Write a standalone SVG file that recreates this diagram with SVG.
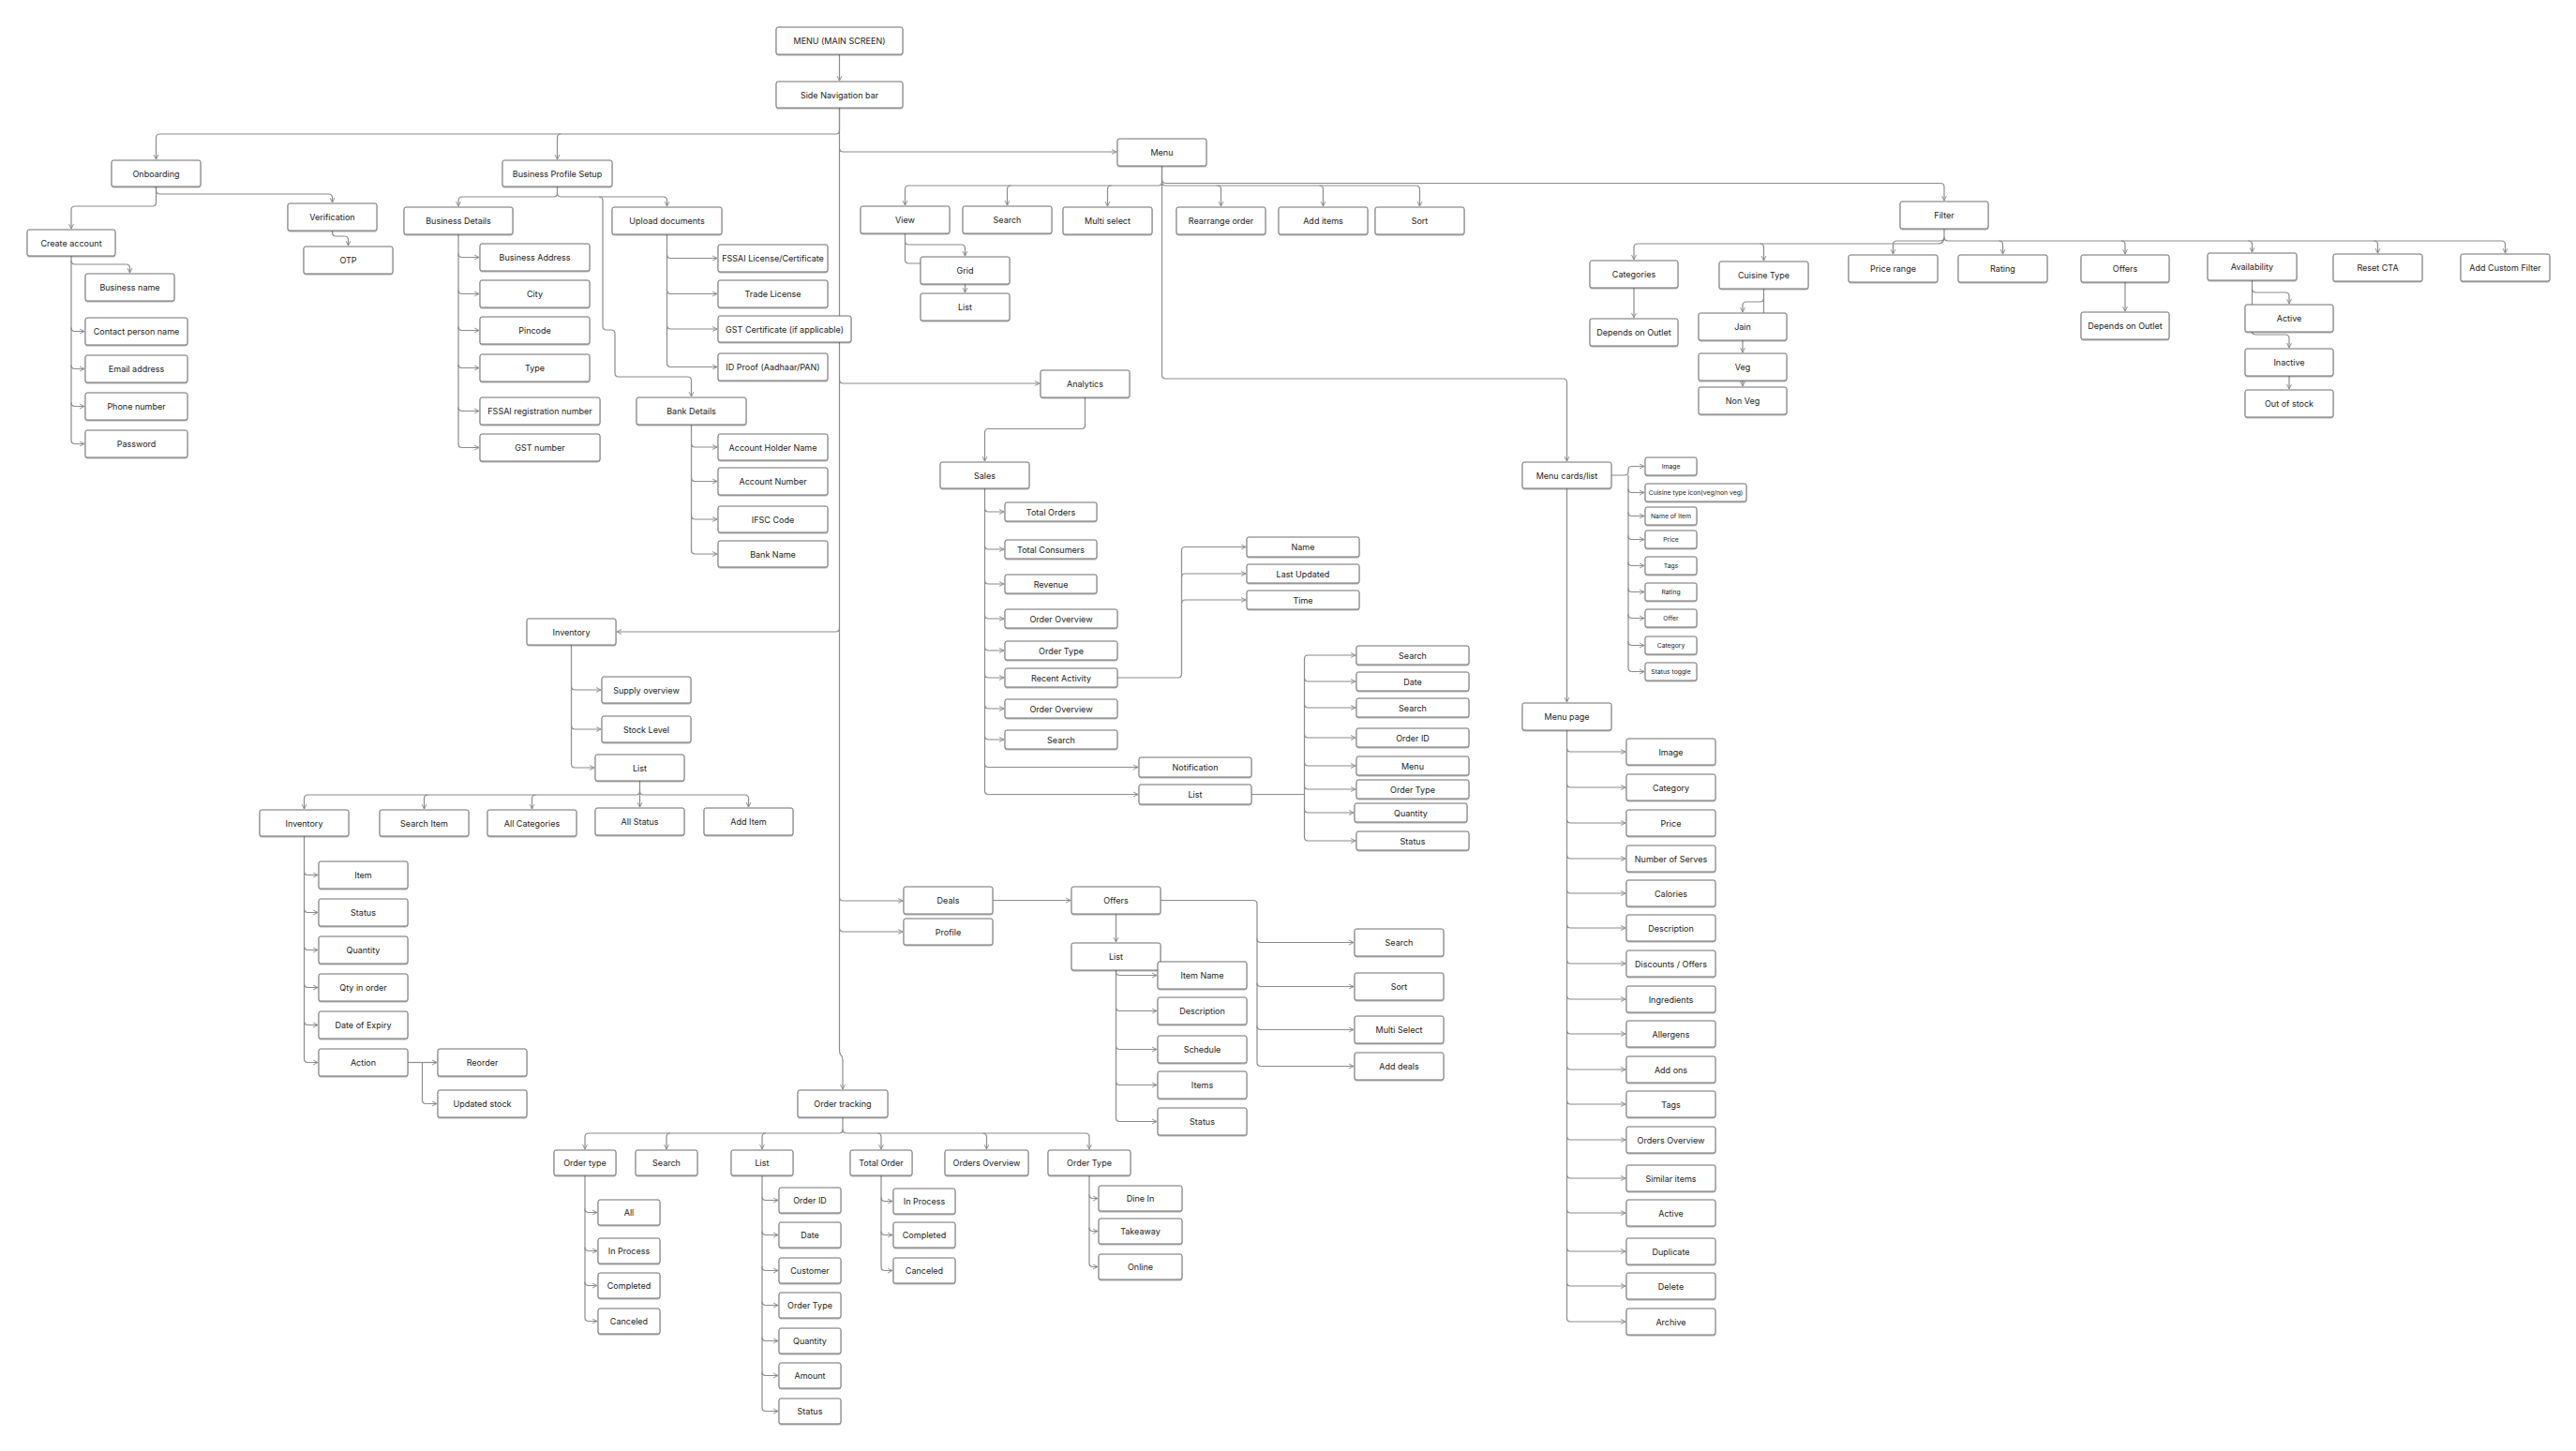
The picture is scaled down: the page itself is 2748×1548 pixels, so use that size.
<svg xmlns="http://www.w3.org/2000/svg" width="2748" height="1548" viewBox="0 0 2748 1548">
<style>
.n rect{fill:#fff;stroke:#6f6f6f;stroke-width:1;rx:2px;filter:url(#sh)}
.n text{font-family:Inter,"Liberation Sans",sans-serif;font-size:9px;fill:#222;text-anchor:middle;dominant-baseline:central}
.s text{font-size:6.8px}
#connectors path{fill:none;stroke:#8c8c8c;stroke-width:1.2}
#connectors .a{marker-end:url(#ar)}
</style>
<defs>
<filter id="sh" x="-5%" y="-10%" width="110%" height="130%"><feDropShadow dx="0" dy="1" stdDeviation="0.4" flood-color="#000" flood-opacity="0.3"/></filter>
<marker id="ar" viewBox="0 0 10 10" refX="9" refY="5" markerWidth="7" markerHeight="7" markerUnits="userSpaceOnUse" orient="auto"><path d="M2,1.5 L9,5 L2,8.5" fill="none" stroke="#8c8c8c" stroke-width="1.4"/></marker>
</defs>
<rect width="2748" height="1548" fill="#fff"/>
<g id="connectors">
<path class="a" d="M895.5,58 V86"/>
<path class="a" d="M895.5,115 V139 Q895.5,143 891.5,143 H170.5 Q166.5,143 166.5,147 V170"/>
<path class="a" d="M598.5,143 Q594.5,143 594.5,147 V170"/>
<path class="a" d="M895.5,115 V1120 Q895.5,1124 897,1125.5 Q899,1127 899,1131 V1162"/>
<path class="a" d="M895.5,158 Q895.5,162 899.5,162 H1191"/>
<path class="a" d="M895.5,405 Q895.5,409 899.5,409 H1109"/>
<path class="a" d="M895.5,670 Q895.5,674 891.5,674 H658"/>
<path class="a" d="M895.5,957 Q895.5,961 899.5,961 H963"/>
<path class="a" d="M895.5,990 Q895.5,994 899.5,994 H963"/>
<path class="a" d="M166.5,199 V203 Q166.5,207 170.5,207 H350.5 Q354.5,207 354.5,211 V216"/>
<path class="a" d="M166.5,199 V216 Q166.5,220 162.5,220 H80 Q76,220 76,224 V244"/>
<path class="a" d="M354.5,246 V248 Q354.5,252 358.5,252 H367.5 Q371.5,252 371.5,256 V262"/>
<path class="a" d="M76,273 V469.5 Q76,473.5 80,473.5 H90"/>
<path class="a" d="M76,278 Q76,282 80,282 H134.5 Q138.5,282 138.5,286 V291"/>
<path class="a" d="M76,349.5 Q76,353.5 80,353.5 H90"/>
<path class="a" d="M76,389.5 Q76,393.5 80,393.5 H90"/>
<path class="a" d="M76,429.5 Q76,433.5 80,433.5 H90"/>
<path class="a" d="M594.5,199 V206 Q594.5,210 590.5,210 H493 Q489,210 489,214 V220"/>
<path class="a" d="M594.5,206 Q594.5,210 598.5,210 H707.5 Q711.5,210 711.5,214 V220"/>
<path class="a" d="M639,210 Q643,210 643,214 V348 Q643,352 647,352 H652 Q656,352 656,356 V398 Q656,402 660,402 H733.5 Q737.5,402 737.5,406 V423"/>
<path class="a" d="M489,250 V473.5 Q489,477.5 493,477.5 H511"/>
<path class="a" d="M489,270.5 Q489,274.5 493,274.5 H511"/>
<path class="a" d="M489,309.5 Q489,313.5 493,313.5 H511"/>
<path class="a" d="M489,348.5 Q489,352.5 493,352.5 H511"/>
<path class="a" d="M489,388.5 Q489,392.5 493,392.5 H511"/>
<path class="a" d="M489,434.5 Q489,438.5 493,438.5 H511"/>
<path class="a" d="M711.5,250 V387.5 Q711.5,391.5 715.5,391.5 H765"/>
<path class="a" d="M711.5,271.5 Q711.5,275.5 715.5,275.5 H765"/>
<path class="a" d="M711.5,309.5 Q711.5,313.5 715.5,313.5 H765"/>
<path class="a" d="M711.5,347 Q711.5,351 715.5,351 H765"/>
<path class="a" d="M737.5,453 V587 Q737.5,591 741.5,591 H765"/>
<path class="a" d="M737.5,473 Q737.5,477 741.5,477 H765"/>
<path class="a" d="M737.5,509.5 Q737.5,513.5 741.5,513.5 H765"/>
<path class="a" d="M737.5,550 Q737.5,554 741.5,554 H765"/>
<path class="a" d="M1239.5,177 V194 Q1239.5,198 1235.5,198 H969.5 Q965.5,198 965.5,202 V219"/>
<path class="a" d="M1078.5,198 Q1074.5,198 1074.5,202 V219"/>
<path class="a" d="M1185.5,198 Q1181.5,198 1181.5,202 V220"/>
<path class="a" d="M1239.5,194 Q1239.5,198 1243.5,198 H1510.5 Q1514.5,198 1514.5,202 V220"/>
<path class="a" d="M1298.5,198 Q1302.5,198 1302.5,202 V220"/>
<path class="a" d="M1407.5,198 Q1411.5,198 1411.5,202 V220"/>
<path class="a" d="M1239.5,191 Q1239.5,195.5 1244,195.5 H2070 Q2074,195.5 2074,199.5 V214"/>
<path class="a" d="M1239.5,177 V400 Q1239.5,404 1243.5,404 H1667.5 Q1671.5,404 1671.5,408 V492"/>
<path class="a" d="M965.5,249 V257 Q965.5,261 969.5,261 H1025.5 Q1029.5,261 1029.5,265 V273"/>
<path d="M965.5,257 V277 Q965.5,281 969.5,281 H982"/>
<path class="a" d="M1029.5,303 V312"/>
<path class="a" d="M2074,244 V253 Q2074,257 2078,257 H2668.5 Q2672.5,257 2672.5,261 V270"/>
<path class="a" d="M2132.5,257 Q2136.5,257 2136.5,261 V271"/>
<path class="a" d="M2263,257 Q2267,257 2267,261 V271"/>
<path class="a" d="M2398.5,257 Q2402.5,257 2402.5,261 V269"/>
<path class="a" d="M2532.5,257 Q2536.5,257 2536.5,261 V270"/>
<path class="a" d="M2074,253 Q2074,257 2070,257 H2023.5 Q2019.5,257 2019.5,261 V271"/>
<path class="a" d="M2074,253 Q2074,260 2067,260 H1747 Q1743,260 1743,264 V277"/>
<path class="a" d="M1877.5,260 Q1881.5,260 1881.5,264 V278"/>
<path class="a" d="M1743,307 V339"/>
<path class="a" d="M1881.5,308 V318 Q1881.5,322 1877.5,322 H1863 Q1859,322 1859,326 V333"/>
<path d="M1881.5,318 V334"/>
<path class="a" d="M1859,363 V376"/>
<path class="a" d="M1859,406 V412"/>
<path class="a" d="M2267,301 V332"/>
<path class="a" d="M2402.5,299 V308 Q2402.5,312 2406.5,312 H2438 Q2442,312 2442,316 V324"/>
<path d="M2402.5,308 V325"/>
<path class="a" d="M2402.5,354 Q2402.5,357 2406.5,357 H2438 Q2442,357 2442,361 V371"/>
<path class="a" d="M2442,401 V415"/>
<path class="a" d="M1719,507 H1733 Q1737,507 1737,503 V501.5 Q1737,497.5 1741,497.5 H1754"/>
<path class="a" d="M1737,507 V712.5 Q1737,716.5 1741,716.5 H1754"/>
<path class="a" d="M1737,521.5 Q1737,525.5 1741,525.5 H1754"/>
<path class="a" d="M1737,546.5 Q1737,550.5 1741,550.5 H1754"/>
<path class="a" d="M1737,571.5 Q1737,575.5 1741,575.5 H1754"/>
<path class="a" d="M1737,599.5 Q1737,603.5 1741,603.5 H1754"/>
<path class="a" d="M1737,627.5 Q1737,631.5 1741,631.5 H1754"/>
<path class="a" d="M1737,655.5 Q1737,659.5 1741,659.5 H1754"/>
<path class="a" d="M1737,684.5 Q1737,688.5 1741,688.5 H1754"/>
<path class="a" d="M1671.5,521 V749"/>
<path class="a" d="M1671.5,779 V1406 Q1671.5,1410 1675.5,1410 H1734"/>
<path class="a" d="M1671.5,798 Q1671.5,802 1675.5,802 H1734"/>
<path class="a" d="M1671.5,836 Q1671.5,840 1675.5,840 H1734"/>
<path class="a" d="M1671.5,874 Q1671.5,878 1675.5,878 H1734"/>
<path class="a" d="M1671.5,912 Q1671.5,916 1675.5,916 H1734"/>
<path class="a" d="M1671.5,949 Q1671.5,953 1675.5,953 H1734"/>
<path class="a" d="M1671.5,986 Q1671.5,990 1675.5,990 H1734"/>
<path class="a" d="M1671.5,1024 Q1671.5,1028 1675.5,1028 H1734"/>
<path class="a" d="M1671.5,1062 Q1671.5,1066 1675.5,1066 H1734"/>
<path class="a" d="M1671.5,1099 Q1671.5,1103 1675.5,1103 H1734"/>
<path class="a" d="M1671.5,1137 Q1671.5,1141 1675.5,1141 H1734"/>
<path class="a" d="M1671.5,1174 Q1671.5,1178 1675.5,1178 H1734"/>
<path class="a" d="M1671.5,1212 Q1671.5,1216 1675.5,1216 H1734"/>
<path class="a" d="M1671.5,1253 Q1671.5,1257 1675.5,1257 H1734"/>
<path class="a" d="M1671.5,1290 Q1671.5,1294 1675.5,1294 H1734"/>
<path class="a" d="M1671.5,1331 Q1671.5,1335 1675.5,1335 H1734"/>
<path class="a" d="M1671.5,1368 Q1671.5,1372 1675.5,1372 H1734"/>
<path class="a" d="M1157.5,424 V453.5 Q1157.5,457.5 1153.5,457.5 H1054.5 Q1050.5,457.5 1050.5,461.5 V492"/>
<path class="a" d="M1050.5,521 V843.5 Q1050.5,847.5 1054.5,847.5 H1214"/>
<path class="a" d="M1050.5,542 Q1050.5,546 1054.5,546 H1071"/>
<path class="a" d="M1050.5,582 Q1050.5,586 1054.5,586 H1071"/>
<path class="a" d="M1050.5,619 Q1050.5,623 1054.5,623 H1071"/>
<path class="a" d="M1050.5,656 Q1050.5,660 1054.5,660 H1071"/>
<path class="a" d="M1050.5,690 Q1050.5,694 1054.5,694 H1071"/>
<path class="a" d="M1050.5,719 Q1050.5,723 1054.5,723 H1071"/>
<path class="a" d="M1050.5,752 Q1050.5,756 1054.5,756 H1071"/>
<path class="a" d="M1050.5,785 Q1050.5,789 1054.5,789 H1071"/>
<path class="a" d="M1050.5,814.5 Q1050.5,818.5 1054.5,818.5 H1214"/>
<path class="a" d="M1192,723 H1256.5 Q1260.5,723 1260.5,719 V587.5 Q1260.5,583.5 1264.5,583.5 H1329"/>
<path class="a" d="M1260.5,616 Q1260.5,612 1264.5,612 H1329"/>
<path class="a" d="M1260.5,644 Q1260.5,640 1264.5,640 H1329"/>
<path d="M1335,847.5 H1391.5"/>
<path class="a" d="M1391.5,703 Q1391.5,699 1395.5,699 H1446"/>
<path class="a" d="M1391.5,703 V893 Q1391.5,897 1395.5,897 H1446"/>
<path class="a" d="M1391.5,723 Q1391.5,727 1395.5,727 H1446"/>
<path class="a" d="M1391.5,751 Q1391.5,755 1395.5,755 H1446"/>
<path class="a" d="M1391.5,783 Q1391.5,787 1395.5,787 H1446"/>
<path class="a" d="M1391.5,813 Q1391.5,817 1395.5,817 H1446"/>
<path class="a" d="M1391.5,838 Q1391.5,842 1395.5,842 H1446"/>
<path class="a" d="M1391.5,863 Q1391.5,867 1395.5,867 H1444"/>
<path class="a" d="M609.5,688 V815 Q609.5,819 613.5,819 H634"/>
<path class="a" d="M609.5,732 Q609.5,736 613.5,736 H641"/>
<path class="a" d="M609.5,774 Q609.5,778 613.5,778 H641"/>
<path class="a" d="M682.5,833 V844 Q682.5,848 678.5,848 H328.5 Q324.5,848 324.5,852 V863"/>
<path class="a" d="M456.5,848 Q452.5,848 452.5,852 V863"/>
<path class="a" d="M571.5,848 Q567.5,848 567.5,852 V863"/>
<path class="a" d="M682.5,844 V861"/>
<path class="a" d="M682.5,844 Q682.5,848 686.5,848 H794.5 Q798.5,848 798.5,852 V861"/>
<path class="a" d="M324.5,892 V1129.5 Q324.5,1133.5 328.5,1133.5 H339"/>
<path class="a" d="M324.5,929.5 Q324.5,933.5 328.5,933.5 H339"/>
<path class="a" d="M324.5,969.5 Q324.5,973.5 328.5,973.5 H339"/>
<path class="a" d="M324.5,1009.5 Q324.5,1013.5 328.5,1013.5 H339"/>
<path class="a" d="M324.5,1049.5 Q324.5,1053.5 328.5,1053.5 H339"/>
<path class="a" d="M324.5,1089.5 Q324.5,1093.5 328.5,1093.5 H339"/>
<path class="a" d="M435,1133.5 H466"/>
<path class="a" d="M450.5,1133.5 V1173.5 Q450.5,1177.5 454.5,1177.5 H466"/>
<path class="a" d="M1059,960.5 H1142"/>
<path class="a" d="M1190.5,975 V1005"/>
<path class="a" d="M1190.5,1035 V1192.5 Q1190.5,1196.5 1194.5,1196.5 H1234"/>
<path class="a" d="M1190.5,1036.5 Q1190.5,1040.5 1194.5,1040.5 H1234"/>
<path class="a" d="M1190.5,1074.5 Q1190.5,1078.5 1194.5,1078.5 H1234"/>
<path class="a" d="M1190.5,1115.5 Q1190.5,1119.5 1194.5,1119.5 H1234"/>
<path class="a" d="M1190.5,1153.5 Q1190.5,1157.5 1194.5,1157.5 H1234"/>
<path class="a" d="M1238,960.5 H1337 Q1341,960.5 1341,964.5 V1133.5 Q1341,1137.5 1345,1137.5 H1444"/>
<path class="a" d="M1341,1001.5 Q1341,1005.5 1345,1005.5 H1444"/>
<path class="a" d="M1341,1048.5 Q1341,1052.5 1345,1052.5 H1444"/>
<path class="a" d="M1341,1094.5 Q1341,1098.5 1345,1098.5 H1444"/>
<path class="a" d="M899,1192 V1205 Q899,1209 895,1209 H628 Q624,1209 624,1213 V1226"/>
<path class="a" d="M715,1209 Q711,1209 711,1213 V1226"/>
<path class="a" d="M817,1209 Q813,1209 813,1213 V1226"/>
<path class="a" d="M899,1205 Q899,1209 903,1209 H1158 Q1162,1209 1162,1213 V1226"/>
<path class="a" d="M936,1209 Q940,1209 940,1213 V1226"/>
<path class="a" d="M1048.5,1209 Q1052.5,1209 1052.5,1213 V1226"/>
<path class="a" d="M624,1254 V1405.5 Q624,1409.5 628,1409.5 H637"/>
<path class="a" d="M624,1289.5 Q624,1293.5 628,1293.5 H637"/>
<path class="a" d="M624,1330.5 Q624,1334.5 628,1334.5 H637"/>
<path class="a" d="M624,1367.5 Q624,1371.5 628,1371.5 H637"/>
<path class="a" d="M813,1254 V1501.5 Q813,1505.5 817,1505.5 H830"/>
<path class="a" d="M813,1276.5 Q813,1280.5 817,1280.5 H830"/>
<path class="a" d="M813,1313.5 Q813,1317.5 817,1317.5 H830"/>
<path class="a" d="M813,1351.5 Q813,1355.5 817,1355.5 H830"/>
<path class="a" d="M813,1388.5 Q813,1392.5 817,1392.5 H830"/>
<path class="a" d="M813,1426.5 Q813,1430.5 817,1430.5 H830"/>
<path class="a" d="M813,1463.5 Q813,1467.5 817,1467.5 H830"/>
<path class="a" d="M940,1254 V1351.5 Q940,1355.5 944,1355.5 H952"/>
<path class="a" d="M940,1277.5 Q940,1281.5 944,1281.5 H952"/>
<path class="a" d="M940,1313.5 Q940,1317.5 944,1317.5 H952"/>
<path class="a" d="M1162,1254 V1347.5 Q1162,1351.5 1166,1351.5 H1171"/>
<path class="a" d="M1162,1274.5 Q1162,1278.5 1166,1278.5 H1171"/>
<path class="a" d="M1162,1309.5 Q1162,1313.5 1166,1313.5 H1171"/>
</g>
<g id="n-main" class="n"><rect x="828" y="29" width="135" height="29"/><text x="895.5" y="43.5">MENU (MAIN SCREEN)</text></g>
<g id="n-sidenav" class="n"><rect x="828" y="87" width="135" height="28"/><text x="895.5" y="101">Side Navigation bar</text></g>
<g id="n-onboarding" class="n"><rect x="119" y="171" width="95" height="28"/><text x="166.5" y="185">Onboarding</text></g>
<g id="n-create-account" class="n"><rect x="29" y="245" width="94" height="28"/><text x="76" y="259">Create account</text></g>
<g id="n-verification" class="n"><rect x="307" y="217" width="95" height="29"/><text x="354.5" y="231.5">Verification</text></g>
<g id="n-otp" class="n"><rect x="324" y="263" width="95" height="29"/><text x="371.5" y="277.5">OTP</text></g>
<g id="n-business-name" class="n"><rect x="91" y="292" width="95" height="29"/><text x="138.5" y="306.5">Business name</text></g>
<g id="n-contact" class="n"><rect x="91" y="339" width="109" height="29"/><text x="145.5" y="353.5">Contact person name</text></g>
<g id="n-email" class="n"><rect x="91" y="379" width="109" height="29"/><text x="145.5" y="393.5">Email address</text></g>
<g id="n-phone" class="n"><rect x="91" y="419" width="109" height="29"/><text x="145.5" y="433.5">Phone number</text></g>
<g id="n-password" class="n"><rect x="91" y="459" width="109" height="29"/><text x="145.5" y="473.5">Password</text></g>
<g id="n-bps" class="n"><rect x="536" y="171" width="117" height="28"/><text x="594.5" y="185">Business Profile Setup</text></g>
<g id="n-business-details" class="n"><rect x="431" y="221" width="116" height="29"/><text x="489" y="235.5">Business Details</text></g>
<g id="n-upload-docs" class="n"><rect x="653" y="221" width="117" height="29"/><text x="711.5" y="235.5">Upload documents</text></g>
<g id="n-business-address" class="n"><rect x="512" y="260" width="117" height="29"/><text x="570.5" y="274.5">Business Address</text></g>
<g id="n-city" class="n"><rect x="512" y="299" width="117" height="29"/><text x="570.5" y="313.5">City</text></g>
<g id="n-pincode" class="n"><rect x="512" y="338" width="117" height="29"/><text x="570.5" y="352.5">Pincode</text></g>
<g id="n-type" class="n"><rect x="512" y="378" width="117" height="29"/><text x="570.5" y="392.5">Type</text></g>
<g id="n-fssai-reg" class="n"><rect x="512" y="424" width="128" height="29"/><text x="576" y="438.5">FSSAI registration number</text></g>
<g id="n-gst-number" class="n"><rect x="512" y="463" width="128" height="29"/><text x="576" y="477.5">GST number</text></g>
<g id="n-fssai-license" class="n"><rect x="766" y="261" width="117" height="29"/><text x="824.5" y="275.5">FSSAI License/Certificate</text></g>
<g id="n-trade-license" class="n"><rect x="766" y="299" width="117" height="29"/><text x="824.5" y="313.5">Trade License</text></g>
<g id="n-gst-cert" class="n"><rect x="766" y="337" width="142" height="28"/><text x="837" y="351">GST Certificate (if applicable)</text></g>
<g id="n-id-proof" class="n"><rect x="766" y="377" width="117" height="29"/><text x="824.5" y="391.5">ID Proof (Aadhaar/PAN)</text></g>
<g id="n-bank-details" class="n"><rect x="679" y="424" width="117" height="29"/><text x="737.5" y="438.5">Bank Details</text></g>
<g id="n-account-holder" class="n"><rect x="766" y="463" width="117" height="28"/><text x="824.5" y="477">Account Holder Name</text></g>
<g id="n-account-number" class="n"><rect x="766" y="499" width="117" height="29"/><text x="824.5" y="513.5">Account Number</text></g>
<g id="n-ifsc" class="n"><rect x="766" y="540" width="117" height="28"/><text x="824.5" y="554">IFSC Code</text></g>
<g id="n-bank-name" class="n"><rect x="766" y="577" width="117" height="28"/><text x="824.5" y="591">Bank Name</text></g>
<g id="n-menu" class="n"><rect x="1192" y="148" width="95" height="29"/><text x="1239.5" y="162.5">Menu</text></g>
<g id="n-view" class="n"><rect x="918" y="220" width="95" height="29"/><text x="965.5" y="234.5">View</text></g>
<g id="n-search-m" class="n"><rect x="1027" y="220" width="95" height="29"/><text x="1074.5" y="234.5">Search</text></g>
<g id="n-multi-select" class="n"><rect x="1134" y="221" width="95" height="29"/><text x="1181.5" y="235.5">Multi select</text></g>
<g id="n-rearrange" class="n"><rect x="1255" y="221" width="95" height="29"/><text x="1302.5" y="235.5">Rearrange order</text></g>
<g id="n-add-items" class="n"><rect x="1364" y="221" width="95" height="29"/><text x="1411.5" y="235.5">Add items</text></g>
<g id="n-sort" class="n"><rect x="1467" y="221" width="95" height="29"/><text x="1514.5" y="235.5">Sort</text></g>
<g id="n-grid" class="n"><rect x="982" y="274" width="95" height="29"/><text x="1029.5" y="288.5">Grid</text></g>
<g id="n-list-view" class="n"><rect x="982" y="313" width="95" height="29"/><text x="1029.5" y="327.5">List</text></g>
<g id="n-filter" class="n"><rect x="2027" y="215" width="94" height="29"/><text x="2074" y="229.5">Filter</text></g>
<g id="n-categories" class="n"><rect x="1696" y="278" width="94" height="29"/><text x="1743" y="292.5">Categories</text></g>
<g id="n-dep-outlet-1" class="n"><rect x="1696" y="340" width="94" height="29"/><text x="1743" y="354.5">Depends on Outlet</text></g>
<g id="n-cuisine" class="n"><rect x="1834" y="279" width="95" height="29"/><text x="1881.5" y="293.5">Cuisine Type</text></g>
<g id="n-jain" class="n"><rect x="1812" y="334" width="94" height="29"/><text x="1859" y="348.5">Jain</text></g>
<g id="n-veg" class="n"><rect x="1812" y="377" width="94" height="29"/><text x="1859" y="391.5">Veg</text></g>
<g id="n-nonveg" class="n"><rect x="1812" y="413" width="94" height="29"/><text x="1859" y="427.5">Non Veg</text></g>
<g id="n-price-range" class="n"><rect x="1972" y="272" width="95" height="29"/><text x="2019.5" y="286.5">Price range</text></g>
<g id="n-rating-f" class="n"><rect x="2089" y="272" width="95" height="29"/><text x="2136.5" y="286.5">Rating</text></g>
<g id="n-offers-f" class="n"><rect x="2220" y="272" width="94" height="29"/><text x="2267" y="286.5">Offers</text></g>
<g id="n-dep-outlet-2" class="n"><rect x="2220" y="333" width="94" height="29"/><text x="2267" y="347.5">Depends on Outlet</text></g>
<g id="n-availability" class="n"><rect x="2355" y="270" width="95" height="29"/><text x="2402.5" y="284.5">Availability</text></g>
<g id="n-active-f" class="n"><rect x="2395" y="325" width="94" height="29"/><text x="2442" y="339.5">Active</text></g>
<g id="n-inactive" class="n"><rect x="2395" y="372" width="94" height="29"/><text x="2442" y="386.5">Inactive</text></g>
<g id="n-out-of-stock" class="n"><rect x="2395" y="416" width="94" height="29"/><text x="2442" y="430.5">Out of stock</text></g>
<g id="n-reset-cta" class="n"><rect x="2489" y="271" width="95" height="29"/><text x="2536.5" y="285.5">Reset CTA</text></g>
<g id="n-add-custom-filter" class="n"><rect x="2625" y="271" width="95" height="29"/><text x="2672.5" y="285.5">Add Custom Filter</text></g>
<g id="n-menu-cards" class="n"><rect x="1624" y="493" width="95" height="28"/><text x="1671.5" y="507">Menu cards/list</text></g>
<g id="n-mc-image" class="n s"><rect x="1755" y="488" width="55" height="19"/><text x="1782.5" y="497.5">Image</text></g>
<g id="n-mc-cuisine" class="n s"><rect x="1755" y="516" width="108" height="19"/><text x="1809" y="525.5">Cuisine type icon(veg/non veg)</text></g>
<g id="n-mc-name" class="n s"><rect x="1755" y="541" width="55" height="19"/><text x="1782.5" y="550.5">Name of item</text></g>
<g id="n-mc-price" class="n s"><rect x="1755" y="566" width="55" height="19"/><text x="1782.5" y="575.5">Price</text></g>
<g id="n-mc-tags" class="n s"><rect x="1755" y="594" width="55" height="19"/><text x="1782.5" y="603.5">Tags</text></g>
<g id="n-mc-rating" class="n s"><rect x="1755" y="622" width="55" height="19"/><text x="1782.5" y="631.5">Rating</text></g>
<g id="n-mc-offer" class="n s"><rect x="1755" y="650" width="55" height="19"/><text x="1782.5" y="659.5">Offer</text></g>
<g id="n-mc-category" class="n s"><rect x="1755" y="679" width="55" height="19"/><text x="1782.5" y="688.5">Category</text></g>
<g id="n-mc-status" class="n s"><rect x="1755" y="707" width="55" height="19"/><text x="1782.5" y="716.5">Status toggle</text></g>
<g id="n-menu-page" class="n"><rect x="1624" y="750" width="95" height="29"/><text x="1671.5" y="764.5">Menu page</text></g>
<g id="n-mp-image" class="n"><rect x="1735" y="788" width="95" height="28"/><text x="1782.5" y="802">Image</text></g>
<g id="n-mp-category" class="n"><rect x="1735" y="826" width="95" height="28"/><text x="1782.5" y="840">Category</text></g>
<g id="n-mp-price" class="n"><rect x="1735" y="864" width="95" height="28"/><text x="1782.5" y="878">Price</text></g>
<g id="n-mp-serves" class="n"><rect x="1735" y="902" width="95" height="28"/><text x="1782.5" y="916">Number of Serves</text></g>
<g id="n-mp-calories" class="n"><rect x="1735" y="939" width="95" height="28"/><text x="1782.5" y="953">Calories</text></g>
<g id="n-mp-description" class="n"><rect x="1735" y="976" width="95" height="28"/><text x="1782.5" y="990">Description</text></g>
<g id="n-mp-discounts" class="n"><rect x="1735" y="1014" width="95" height="28"/><text x="1782.5" y="1028">Discounts / Offers</text></g>
<g id="n-mp-ingredients" class="n"><rect x="1735" y="1052" width="95" height="28"/><text x="1782.5" y="1066">Ingredients</text></g>
<g id="n-mp-allergens" class="n"><rect x="1735" y="1089" width="95" height="28"/><text x="1782.5" y="1103">Allergens</text></g>
<g id="n-mp-addons" class="n"><rect x="1735" y="1127" width="95" height="28"/><text x="1782.5" y="1141">Add ons</text></g>
<g id="n-mp-tags" class="n"><rect x="1735" y="1164" width="95" height="28"/><text x="1782.5" y="1178">Tags</text></g>
<g id="n-mp-orders-overview" class="n"><rect x="1735" y="1202" width="95" height="28"/><text x="1782.5" y="1216">Orders Overview</text></g>
<g id="n-mp-similar" class="n"><rect x="1735" y="1243" width="95" height="28"/><text x="1782.5" y="1257">Similar items</text></g>
<g id="n-mp-active" class="n"><rect x="1735" y="1280" width="95" height="28"/><text x="1782.5" y="1294">Active</text></g>
<g id="n-mp-duplicate" class="n"><rect x="1735" y="1321" width="95" height="28"/><text x="1782.5" y="1335">Duplicate</text></g>
<g id="n-mp-delete" class="n"><rect x="1735" y="1358" width="95" height="28"/><text x="1782.5" y="1372">Delete</text></g>
<g id="n-mp-archive" class="n"><rect x="1735" y="1396" width="95" height="28"/><text x="1782.5" y="1410">Archive</text></g>
<g id="n-analytics" class="n"><rect x="1110" y="395" width="95" height="29"/><text x="1157.5" y="409.5">Analytics</text></g>
<g id="n-sales" class="n"><rect x="1003" y="493" width="95" height="28"/><text x="1050.5" y="507">Sales</text></g>
<g id="n-total-orders" class="n"><rect x="1072" y="536" width="98" height="20"/><text x="1121" y="546">Total Orders</text></g>
<g id="n-total-consumers" class="n"><rect x="1072" y="576" width="98" height="20"/><text x="1121" y="586">Total Consumers</text></g>
<g id="n-revenue" class="n"><rect x="1072" y="613" width="98" height="20"/><text x="1121" y="623">Revenue</text></g>
<g id="n-order-overview-1" class="n"><rect x="1072" y="650" width="120" height="20"/><text x="1132" y="660">Order Overview</text></g>
<g id="n-order-type-s" class="n"><rect x="1072" y="684" width="120" height="20"/><text x="1132" y="694">Order Type</text></g>
<g id="n-recent-activity" class="n"><rect x="1072" y="713" width="120" height="20"/><text x="1132" y="723">Recent Activity</text></g>
<g id="n-order-overview-2" class="n"><rect x="1072" y="746" width="120" height="20"/><text x="1132" y="756">Order Overview</text></g>
<g id="n-search-s" class="n"><rect x="1072" y="779" width="120" height="20"/><text x="1132" y="789">Search</text></g>
<g id="n-notification" class="n"><rect x="1215" y="808" width="120" height="21"/><text x="1275" y="818.5">Notification</text></g>
<g id="n-list-s" class="n"><rect x="1215" y="837" width="120" height="21"/><text x="1275" y="847.5">List</text></g>
<g id="n-ra-name" class="n"><rect x="1330" y="573" width="120" height="21"/><text x="1390" y="583.5">Name</text></g>
<g id="n-ra-last-updated" class="n"><rect x="1330" y="602" width="120" height="20"/><text x="1390" y="612">Last Updated</text></g>
<g id="n-ra-time" class="n"><rect x="1330" y="630" width="120" height="20"/><text x="1390" y="640">Time</text></g>
<g id="n-sl-search-1" class="n"><rect x="1447" y="689" width="120" height="20"/><text x="1507" y="699">Search</text></g>
<g id="n-sl-date" class="n"><rect x="1447" y="717" width="120" height="20"/><text x="1507" y="727">Date</text></g>
<g id="n-sl-search-2" class="n"><rect x="1447" y="745" width="120" height="20"/><text x="1507" y="755">Search</text></g>
<g id="n-sl-order-id" class="n"><rect x="1447" y="777" width="120" height="20"/><text x="1507" y="787">Order ID</text></g>
<g id="n-sl-menu" class="n"><rect x="1447" y="807" width="120" height="20"/><text x="1507" y="817">Menu</text></g>
<g id="n-sl-order-type" class="n"><rect x="1447" y="832" width="120" height="20"/><text x="1507" y="842">Order Type</text></g>
<g id="n-sl-quantity" class="n"><rect x="1445" y="857" width="120" height="20"/><text x="1505" y="867">Quantity</text></g>
<g id="n-sl-status" class="n"><rect x="1447" y="887" width="120" height="20"/><text x="1507" y="897">Status</text></g>
<g id="n-inventory" class="n"><rect x="562" y="660" width="95" height="28"/><text x="609.5" y="674">Inventory</text></g>
<g id="n-supply" class="n"><rect x="642" y="722" width="95" height="28"/><text x="689.5" y="736">Supply overview</text></g>
<g id="n-stock" class="n"><rect x="642" y="764" width="95" height="28"/><text x="689.5" y="778">Stock Level</text></g>
<g id="n-list-i" class="n"><rect x="635" y="805" width="95" height="28"/><text x="682.5" y="819">List</text></g>
<g id="n-inventory-2" class="n"><rect x="277" y="864" width="95" height="28"/><text x="324.5" y="878">Inventory</text></g>
<g id="n-search-item" class="n"><rect x="405" y="864" width="95" height="28"/><text x="452.5" y="878">Search Item</text></g>
<g id="n-all-categories" class="n"><rect x="520" y="864" width="95" height="28"/><text x="567.5" y="878">All Categories</text></g>
<g id="n-all-status" class="n"><rect x="635" y="862" width="95" height="29"/><text x="682.5" y="876.5">All Status</text></g>
<g id="n-add-item" class="n"><rect x="751" y="862" width="95" height="29"/><text x="798.5" y="876.5">Add Item</text></g>
<g id="n-inv-item" class="n"><rect x="340" y="919" width="95" height="29"/><text x="387.5" y="933.5">Item</text></g>
<g id="n-inv-status" class="n"><rect x="340" y="959" width="95" height="29"/><text x="387.5" y="973.5">Status</text></g>
<g id="n-inv-quantity" class="n"><rect x="340" y="999" width="95" height="29"/><text x="387.5" y="1013.5">Quantity</text></g>
<g id="n-inv-qty-order" class="n"><rect x="340" y="1039" width="95" height="29"/><text x="387.5" y="1053.5">Qty in order</text></g>
<g id="n-inv-expiry" class="n"><rect x="340" y="1079" width="95" height="29"/><text x="387.5" y="1093.5">Date of Expiry</text></g>
<g id="n-inv-action" class="n"><rect x="340" y="1119" width="95" height="29"/><text x="387.5" y="1133.5">Action</text></g>
<g id="n-reorder" class="n"><rect x="467" y="1119" width="95" height="29"/><text x="514.5" y="1133.5">Reorder</text></g>
<g id="n-updated-stock" class="n"><rect x="467" y="1163" width="95" height="29"/><text x="514.5" y="1177.5">Updated stock</text></g>
<g id="n-deals" class="n"><rect x="964" y="946" width="95" height="29"/><text x="1011.5" y="960.5">Deals</text></g>
<g id="n-profile" class="n"><rect x="964" y="980" width="95" height="28"/><text x="1011.5" y="994">Profile</text></g>
<g id="n-offers" class="n"><rect x="1143" y="946" width="95" height="29"/><text x="1190.5" y="960.5">Offers</text></g>
<g id="n-list-o" class="n"><rect x="1143" y="1006" width="95" height="29"/><text x="1190.5" y="1020.5">List</text></g>
<g id="n-item-name" class="n"><rect x="1235" y="1026" width="95" height="29"/><text x="1282.5" y="1040.5">Item Name</text></g>
<g id="n-description-o" class="n"><rect x="1235" y="1064" width="95" height="29"/><text x="1282.5" y="1078.5">Description</text></g>
<g id="n-schedule" class="n"><rect x="1235" y="1105" width="95" height="29"/><text x="1282.5" y="1119.5">Schedule</text></g>
<g id="n-items-o" class="n"><rect x="1235" y="1143" width="95" height="29"/><text x="1282.5" y="1157.5">Items</text></g>
<g id="n-status-o" class="n"><rect x="1235" y="1182" width="95" height="29"/><text x="1282.5" y="1196.5">Status</text></g>
<g id="n-search-o" class="n"><rect x="1445" y="991" width="95" height="29"/><text x="1492.5" y="1005.5">Search</text></g>
<g id="n-sort-o" class="n"><rect x="1445" y="1038" width="95" height="29"/><text x="1492.5" y="1052.5">Sort</text></g>
<g id="n-multi-select-o" class="n"><rect x="1445" y="1084" width="95" height="29"/><text x="1492.5" y="1098.5">Multi Select</text></g>
<g id="n-add-deals" class="n"><rect x="1445" y="1123" width="95" height="29"/><text x="1492.5" y="1137.5">Add deals</text></g>
<g id="n-order-tracking" class="n"><rect x="851" y="1163" width="96" height="29"/><text x="899" y="1177.5">Order tracking</text></g>
<g id="n-ot-order-type" class="n"><rect x="591" y="1227" width="66" height="27"/><text x="624" y="1240.5">Order type</text></g>
<g id="n-ot-search" class="n"><rect x="678" y="1227" width="66" height="27"/><text x="711" y="1240.5">Search</text></g>
<g id="n-ot-list" class="n"><rect x="780" y="1227" width="66" height="27"/><text x="813" y="1240.5">List</text></g>
<g id="n-ot-total-order" class="n"><rect x="907" y="1227" width="66" height="27"/><text x="940" y="1240.5">Total Order</text></g>
<g id="n-ot-orders-overview" class="n"><rect x="1008" y="1227" width="89" height="27"/><text x="1052.5" y="1240.5">Orders Overview</text></g>
<g id="n-ot-order-type-2" class="n"><rect x="1118" y="1227" width="88" height="27"/><text x="1162" y="1240.5">Order Type</text></g>
<g id="n-ot-all" class="n"><rect x="638" y="1280" width="66" height="27"/><text x="671" y="1293.5">All</text></g>
<g id="n-ot-in-process" class="n"><rect x="638" y="1321" width="66" height="27"/><text x="671" y="1334.5">In Process</text></g>
<g id="n-ot-completed" class="n"><rect x="638" y="1358" width="66" height="27"/><text x="671" y="1371.5">Completed</text></g>
<g id="n-ot-canceled" class="n"><rect x="638" y="1396" width="66" height="27"/><text x="671" y="1409.5">Canceled</text></g>
<g id="n-otl-order-id" class="n"><rect x="831" y="1267" width="66" height="27"/><text x="864" y="1280.5">Order ID</text></g>
<g id="n-otl-date" class="n"><rect x="831" y="1304" width="66" height="27"/><text x="864" y="1317.5">Date</text></g>
<g id="n-otl-customer" class="n"><rect x="831" y="1342" width="66" height="27"/><text x="864" y="1355.5">Customer</text></g>
<g id="n-otl-order-type" class="n"><rect x="831" y="1379" width="66" height="27"/><text x="864" y="1392.5">Order Type</text></g>
<g id="n-otl-quantity" class="n"><rect x="831" y="1417" width="66" height="27"/><text x="864" y="1430.5">Quantity</text></g>
<g id="n-otl-amount" class="n"><rect x="831" y="1454" width="66" height="27"/><text x="864" y="1467.5">Amount</text></g>
<g id="n-otl-status" class="n"><rect x="831" y="1492" width="66" height="27"/><text x="864" y="1505.5">Status</text></g>
<g id="n-tot-in-process" class="n"><rect x="953" y="1268" width="66" height="27"/><text x="986" y="1281.5">In Process</text></g>
<g id="n-tot-completed" class="n"><rect x="953" y="1304" width="66" height="27"/><text x="986" y="1317.5">Completed</text></g>
<g id="n-tot-canceled" class="n"><rect x="953" y="1342" width="66" height="27"/><text x="986" y="1355.5">Canceled</text></g>
<g id="n-dine-in" class="n"><rect x="1172" y="1265" width="89" height="27"/><text x="1216.5" y="1278.5">Dine In</text></g>
<g id="n-takeaway" class="n"><rect x="1172" y="1300" width="89" height="27"/><text x="1216.5" y="1313.5">Takeaway</text></g>
<g id="n-online" class="n"><rect x="1172" y="1338" width="89" height="27"/><text x="1216.5" y="1351.5">Online</text></g>
</svg>
